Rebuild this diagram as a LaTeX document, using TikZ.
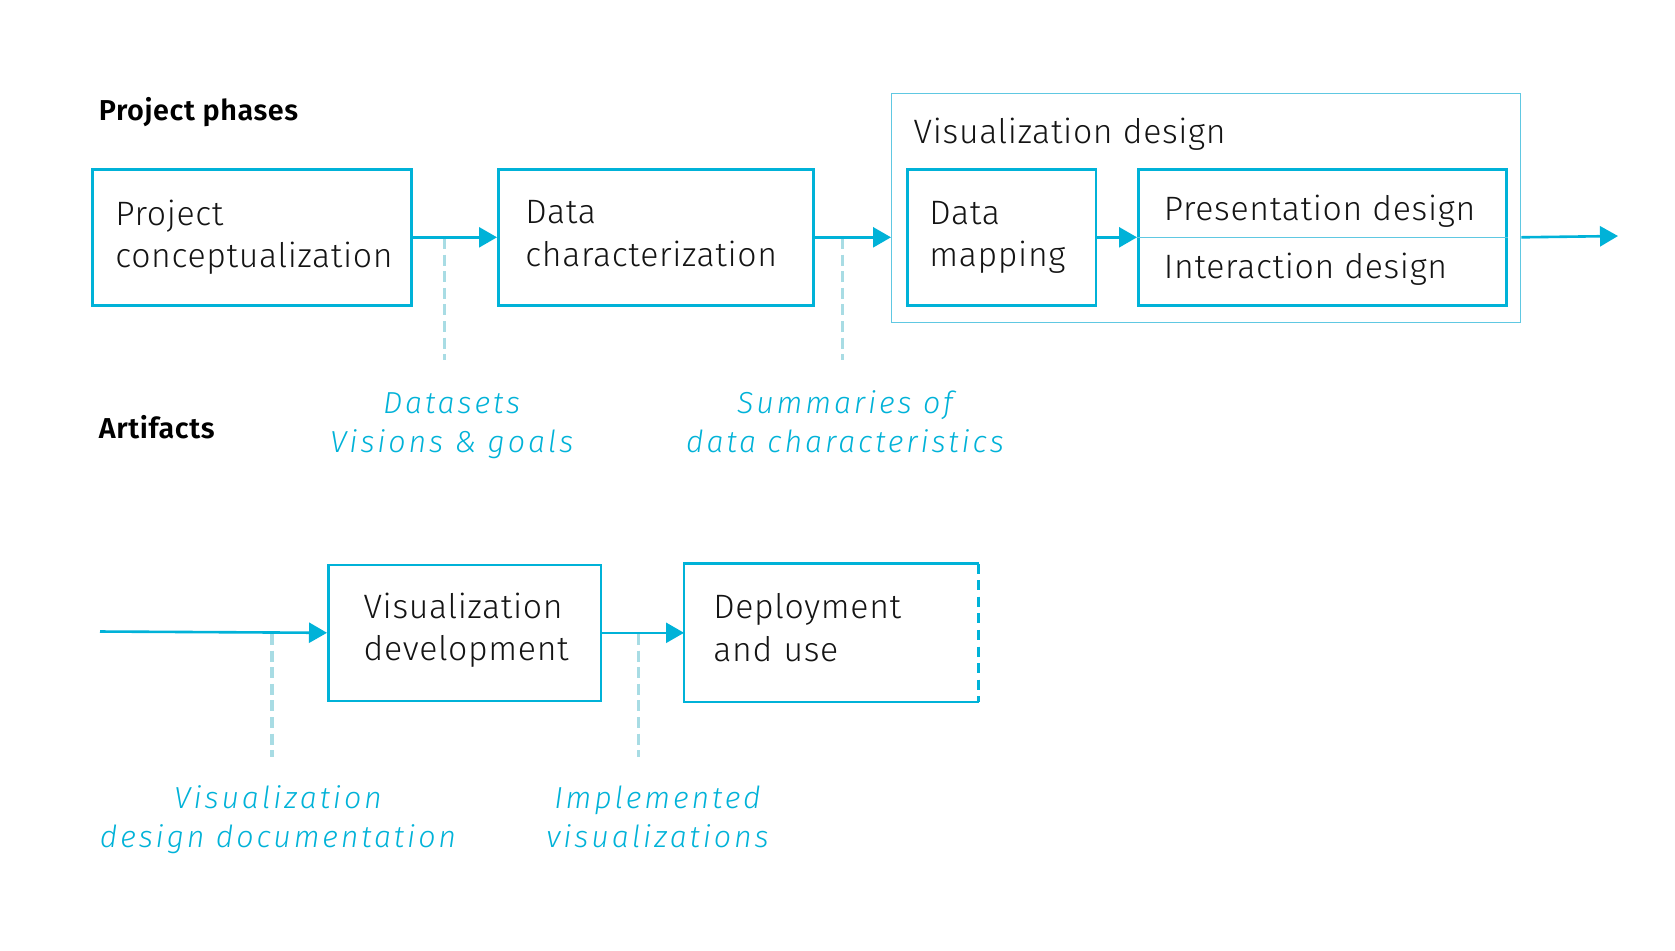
\documentclass[tikz,border=0pt]{standalone}
\usepackage{fontspec}
\setmainfont{Fira Sans Light}[BoldFont={Fira Sans SemiBold},ItalicFont={Fira Sans Light Italic},LetterSpace=2]
\newfontfamily\ArtFont{Fira Sans Light Italic}[LetterSpace=9.5]
\usepackage{tikz}
\usetikzlibrary{arrows.meta}
\definecolor{ColWhite}{RGB}{255,255,255}
\definecolor{ColCyan}{RGB}{0,178,216}
\definecolor{ColFrame}{RGB}{96,200,226}
\definecolor{ColDash}{RGB}{168,220,228}
\definecolor{ColInk}{RGB}{20,20,20}
\newcommand{\DepthFix}[1]{\rule[-#1]{0pt}{0pt}}
\tikzstyle{Heading}=[anchor=base west,inner sep=0pt,font=\bfseries\fontsize{14.4}{17}\selectfont]
\tikzstyle{PhaseBox}=[draw=ColCyan,line width=1.3pt,anchor=north west,align=left,inner ysep=0pt,
minimum height=68pt,text=ColInk,font=\fontsize{16.9}{21.4}\selectfont]
\tikzstyle{PhaseText}=[anchor=base west,inner sep=0pt,text=ColInk,font=\fontsize{16.9}{21.4}\selectfont]
\tikzstyle{ArtText}=[anchor=base,align=center,inner sep=0pt,text=ColCyan,font=\ArtFont\fontsize{15.2}{19.5}\selectfont]
\tikzstyle{FlowArrow}=[ColCyan,line width=1.3pt,-{Triangle[length=9pt,width=10pt]}]
\tikzstyle{ArtLink}=[ColDash,line width=1.8pt,dash pattern=on 5.5pt off 2.8pt]

\begin{document}
\begin{tikzpicture}[x=0.5pt,y=-0.5pt]
        \useasboundingbox[fill=ColWhite](0,0)rectangle(1675,950);
        % project phases
        \node[Heading](phases)at(98.5,120){Project phases};
        \node[PhaseBox,minimum width=159.5pt,text width=136.5pt,inner xsep=11.5pt](proj)at(91,168){Project\\conceptualization};
        \node[PhaseBox,minimum width=157.5pt,text width=130.5pt,inner xsep=13.5pt](dchar)at(497,168){Data\\characterization\DepthFix{3.5pt}};
        \node[draw=ColFrame,line width=0.7pt,anchor=north west,minimum width=314.5pt,minimum height=114.5pt,inner sep=0pt](vdesign)at(891,92.7){};
        \node[PhaseText](vdtitle)at(913.3,143.3){Visualization design};
        \node[PhaseBox,minimum width=94.3pt,text width=72.3pt,inner xsep=11pt](dmap)at(906,168){Data\\mapping};
        \node[PhaseBox,minimum width=184pt](pid)at(1137,168){};
        \draw[ColFrame,line width=0.6pt](pid.west)--(pid.east);
        \node[PhaseText](pres)at(1163.5,220){Presentation design};
        \node[PhaseText](inter)at(1163.5,278.3){Interaction design};
        % artifacts
        \node[Heading](artifacts)at(98.5,438.3){Artifacts};
        \coordinate(linkA)at(444.3,238);
        \coordinate(linkAend)at(444.3,360);
        \coordinate(linkB)at(842.3,238);
        \coordinate(linkBend)at(842.3,360);
        \draw[ArtLink](linkA)--(linkAend);
        \draw[ArtLink](linkB)--(linkBend);
        \node[ArtText](artA)at(451.7,452.3){Datasets\\Visions \& goals};
        \node[ArtText](artB)at(845,452.3){Summaries of\\data characteristics};
        \draw[FlowArrow](proj.east)--(dchar.west);
        \draw[FlowArrow](dchar.east)--(dchar.east-|vdesign.west);
        \draw[FlowArrow](dmap.east)--(pid.west);
        \coordinate(outEnd)at(1618,236);
        \draw[FlowArrow](pid.east-|vdesign.east)--(outEnd);
        % second row
        \coordinate(inStart)at(100,631.5);
        \node[PhaseBox,minimum width=136.3pt,text width=101pt,inner xsep=17.65pt](vdev)at(327,563.5){Visualization\\development\DepthFix{6pt}};
        \node[PhaseBox,draw=none,minimum width=146pt,text width=118pt,inner xsep=14pt](deploy)at(684,563.5){Deployment\\and use\DepthFix{5pt}};
        \draw[ColCyan,line width=1.3pt](deploy.north east)--(deploy.north west)--(deploy.south west)--(deploy.south east);
        \draw[ColCyan,line width=1.3pt,dash pattern=on 5pt off 3.3pt](deploy.north east)--(deploy.south east);
        \coordinate(linkC)at(272,634);
        \coordinate(linkCend)at(272,756.7);
        \coordinate(linkD)at(638.3,634);
        \coordinate(linkDend)at(638.3,756.7);
        \draw[ArtLink](linkC)--(linkCend);
        \draw[ArtLink](linkD)--(linkDend);
        \draw[FlowArrow](inStart)--(vdev.west);
        \draw[FlowArrow](vdev.east)--(deploy.west);
        \node[ArtText](artC)at(278,847.3){Visualization\\design documentation};
        \node[ArtText](artD)at(657.5,847.3){Implemented\\visualizations};
    \end{tikzpicture}
\end{document}
